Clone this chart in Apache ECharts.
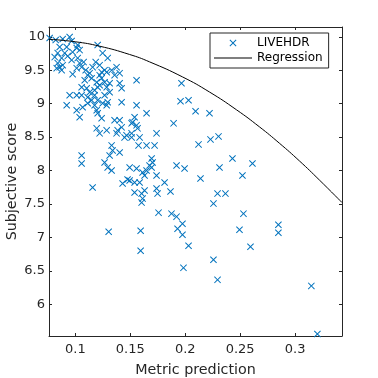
<!DOCTYPE html>
<html>
<head>
<meta charset="utf-8">
<script src="https://cdn.jsdelivr.net/npm/echarts@6/dist/echarts.min.js"></script>
<style>html,body{margin:0;padding:0;background:#fff;}#c{width:378px;height:378px;}</style>
</head>
<body>
<div id="c"></div>
<script>
// ---- data ----
const seriesNames = ['LIVEHDR', 'Regression'];
const xTickLabels = ['0.1', '0.15', '0.2', '0.25', '0.3'];
const yTickLabels = ['6', '6.5', '7', '7.5', '8', '8.5', '9', '9.5', '10'];
const xRange = [0.076, 0.3427];
const yRange = [5.527, 10.146];

const liveX = [
0.0766,0.0821,0.0885,0.0948,0.0966,0.1021,0.1203,0.0857,0.0921,0.1012,
0.0839,0.0903,0.0975,0.1039,0.0812,0.0875,0.0930,0.0966,0.1021,0.1039,
0.1075,0.0839,0.0857,0.0885,0.0830,0.1185,0.1221,0.1248,0.1294,0.1157,
0.1057,0.1094,0.1012,0.0875,
0.0975,0.1112,0.1130,0.1221,0.1239,0.1285,0.1266,0.1330,0.1357,0.1403,
0.1375,0.1085,0.1148,0.1194,0.1239,0.1266,0.1312,0.1421,0.1403,0.1557,
0.1057,0.1103,0.1130,0.1175,0.1203,0.1221,0.1285,0.1312,0.1266,0.0948,
0.1012,0.1057,0.1112,0.1175,0.1203,0.1148,
0.1248,0.1294,0.1421,0.0921,0.1066,0.1112,0.1175,0.1194,0.1203,0.1285,
0.1557,0.1648,0.1012,0.1039,0.1239,0.1357,0.1403,0.1539,0.1521,0.1557,
0.1566,0.1894,0.2094,0.1966,0.1957,0.2030,0.2221,0.1194,0.1285,0.1385,
0.1466,0.1512,0.1448,0.1512,0.1585,0.1739,0.1221,0.1375,0.1421,0.1512,
0.2230,0.2303,
0.1648,0.1721,0.1575,0.1330,0.1339,0.1312,0.1403,0.1057,0.1057,0.1266,
0.1294,0.1330,0.2121,0.1494,0.1557,0.1612,0.1648,0.1675,0.1703,0.1694,
0.1694,0.1739,0.1630,0.1921,0.1994,0.2430,0.2612,0.2312,0.2521,0.1475,
0.1539,0.1585,0.1812,0.2139,0.1430,0.1494,
0.1739,0.1748,0.1866,0.2294,0.2366,0.2257,0.1757,0.1875,0.1921,0.1975,
0.1930,0.1975,0.2530,0.2494,0.2848,0.2848,0.2030,0.2594,0.2257,0.1984,
0.2294,0.3148,0.3203,0.1157,0.1303,0.1594,0.1594,0.1539,0.1603,0.1630,
0.1612,0.1603
];
const liveY = [
9.981,9.951,9.966,9.996,9.936,9.876,9.876,9.846,9.846,9.831,
9.756,9.756,9.771,9.801,9.696,9.681,9.711,9.651,9.681,9.606,
9.621,9.606,9.546,9.576,9.531,9.621,9.576,9.756,9.681,9.546,
9.546,9.501,9.531,9.501,
9.441,9.426,9.456,9.426,9.471,9.471,9.501,9.501,9.426,9.456,
9.546,9.351,9.381,9.321,9.381,9.321,9.306,9.231,9.306,9.351,
9.246,9.231,9.171,9.201,9.246,9.276,9.246,9.171,9.126,9.126,
9.126,9.126,9.096,9.126,9.051,9.051,
9.006,9.021,9.021,8.976,8.946,9.006,8.976,8.901,8.856,8.976,
8.976,8.856,8.901,8.796,8.781,8.751,8.751,8.796,8.721,8.676,
8.631,8.706,8.886,9.306,9.036,9.051,8.856,8.631,8.601,8.601,
8.526,8.556,8.496,8.496,8.496,8.556,8.556,8.556,8.646,8.706,
8.466,8.511,
8.376,8.376,8.376,8.376,8.301,8.226,8.271,8.226,8.106,8.121,
8.046,8.001,8.391,8.046,8.031,7.971,8.001,8.076,8.121,8.181,
8.046,7.926,7.926,8.076,8.031,8.181,8.106,8.046,7.926,7.866,
7.821,7.821,7.821,7.881,7.806,7.851,
7.731,7.656,7.686,7.656,7.656,7.506,7.371,7.356,7.311,7.206,
7.131,7.041,7.356,7.116,7.191,7.071,6.876,6.861,6.666,6.546,
6.366,6.276,5.556,7.746,7.086,7.101,6.801,7.671,7.656,7.701,
7.581,7.521
];

const regX = [0.0757, 0.1000, 0.1221, 0.1494, 0.1675, 0.1975, 0.2221, 0.2466, 0.2675, 0.2857, 0.3039, 0.3221, 0.3427];
const regY = [9.963, 9.925, 9.859, 9.735, 9.625, 9.400, 9.174, 8.909, 8.654, 8.409, 8.145, 7.859, 7.522];

// ---- build chart ----
const liveData = liveX.map((x, i) => [x, liveY[i]]);
const regData = regX.map((x, i) => [x, regY[i]]);

function labelFrom(list) {
  return function (v) {
    for (const s of list) { if (Math.abs(parseFloat(s) - v) < 1e-7) return s; }
    return '';
  };
}

const axisColor = '#262626';
const font = 'DejaVu Sans';
const blue = '#0072BD';
// filled "x" glyph (so canvas fill draws it, no stroke needed)
const xMark = 'path://M0,1L1,0L5,4L9,0L10,1L6,5L10,9L9,10L5,6L1,10L0,9L4,5Z';
const lineMark = 'path://M0,0L38,0L38,1L0,1Z';

function xAx(pos, showLabel) {
  return {
    type: 'value', position: pos, min: xRange[0], max: xRange[1],
    splitNumber: 5, minInterval: 0.05, maxInterval: 0.05,
    axisLine: { show: true, onZero: false, lineStyle: { color: axisColor, width: 1 } },
    axisTick: { show: true, inside: true, length: 3, lineStyle: { color: axisColor } },
    axisLabel: { show: showLabel, margin: 7, color: axisColor, fontSize: 13, fontFamily: font, formatter: labelFrom(xTickLabels) },
    splitLine: { show: false },
    name: showLabel ? 'Metric prediction' : '',
    nameLocation: 'middle', nameGap: 27, nameMoveOverlap: false,
    nameTextStyle: { color: axisColor, fontSize: 14.3, fontFamily: font }
  };
}
function yAx(pos, showLabel) {
  return {
    type: 'value', position: pos, min: yRange[0], max: yRange[1],
    splitNumber: 9, minInterval: 0.5, maxInterval: 0.5,
    axisLine: { show: true, onZero: false, lineStyle: { color: axisColor, width: 1 } },
    axisTick: { show: true, inside: true, length: 3, lineStyle: { color: axisColor } },
    axisLabel: { show: showLabel, margin: 4, color: axisColor, fontSize: 13, fontFamily: font, formatter: labelFrom(yTickLabels) },
    splitLine: { show: false },
    name: showLabel ? 'Subjective score' : '',
    nameLocation: 'middle', nameGap: 30, nameMoveOverlap: false,
    nameTextStyle: { color: axisColor, fontSize: 14.3, fontFamily: font }
  };
}

const chart = echarts.init(document.getElementById('c'), null, { renderer: 'canvas' });
chart.setOption({
  animation: false,
  backgroundColor: '#fff',
  grid: { left: 49, right: 36, top: 27, bottom: 42, containLabel: false, outerBoundsMode: 'none' },
  xAxis: [xAx('bottom', true), xAx('top', false)],
  yAxis: [yAx('left', true), yAx('right', false)],
  legend: {
    data: [
      { name: seriesNames[0], icon: xMark },
      { name: seriesNames[1], icon: lineMark }
    ],
    orient: 'vertical', left: 210, top: 33,
    itemWidth: 38, itemHeight: 7, itemGap: 3,
    padding: [4, 6, 4, 4],
    backgroundColor: '#fff', borderColor: axisColor, borderWidth: 1, borderRadius: 0,
    textStyle: { color: '#000', fontSize: 12, fontFamily: font, lineHeight: 12 }
  },
  series: [
    {
      name: seriesNames[0], type: 'scatter', xAxisIndex: 0, yAxisIndex: 0,
      data: liveData,
      symbol: xMark, symbolSize: 7,
      itemStyle: { color: blue, borderWidth: 0, opacity: 1 },
      emphasis: { disabled: true }
    },
    {
      name: seriesNames[1], type: 'line', xAxisIndex: 0, yAxisIndex: 0,
      data: regData, smooth: true, symbol: 'none', showSymbol: false,
      lineStyle: { color: '#000', width: 1 },
      itemStyle: { color: '#000' },
      emphasis: { disabled: true }
    }
  ]
});
</script>
</body>
</html>
